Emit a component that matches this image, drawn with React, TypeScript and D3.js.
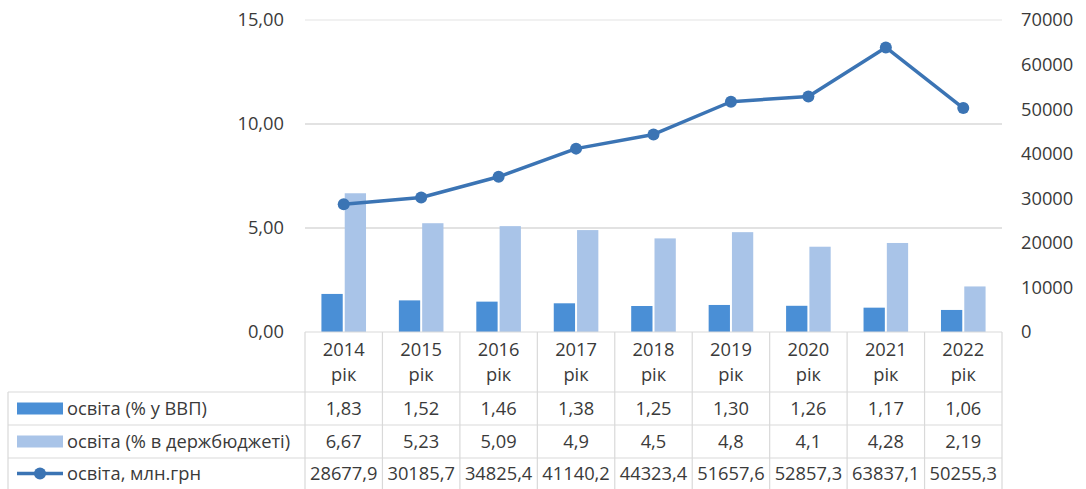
import React from 'react';
import * as d3 from 'd3';

const years = ['2014', '2015', '2016', '2017', '2018', '2019', '2020', '2021', '2022'];
const gdpShare = [1.83, 1.52, 1.46, 1.38, 1.25, 1.3, 1.26, 1.17, 1.06];
const gdpLabels = ['1,83', '1,52', '1,46', '1,38', '1,25', '1,30', '1,26', '1,17', '1,06'];
const budgetShare = [6.67, 5.23, 5.09, 4.9, 4.5, 4.8, 4.1, 4.28, 2.19];
const budgetLabels = ['6,67', '5,23', '5,09', '4,9', '4,5', '4,8', '4,1', '4,28', '2,19'];
const spending = [28677.9, 30185.7, 34825.4, 41140.2, 44323.4, 51657.6, 52857.3, 63837.1, 50255.3];
const spendingLabels = ['28677,9', '30185,7', '34825,4', '41140,2', '44323,4', '51657,6', '52857,3', '63837,1', '50255,3'];
const leftTicks = [0, 5, 10, 15];
const rightTicks = [0, 10000, 20000, 30000, 40000, 50000, 60000, 70000];
const seriesNames = ['освіта (% у ВВП)', 'освіта (% в держбюджеті)', 'освіта, млн.грн'];

const W = 1086;
const H = 489;
const plotL = 305;
const plotR = 1002;
const plotT = 20;
const plotB = 332;
const rowY = [332, 392, 425, 458, 489];
const tableL = 8;

const darkBlue = '#4a8fd6';
const lightBlue = '#a9c4e8';
const lineBlue = '#3b74b4';
const textCol = '#3a3a3a';
const gridCol = '#d9d9d9';
const font = '"Open Sans", sans-serif';
const fs = 18.3;

export default function App() {
  const x = d3.scaleBand<string>().domain(years).range([plotL, plotR]);
  const yL = d3.scaleLinear().domain([0, 15]).range([plotB, plotT]);
  const yR = d3.scaleLinear().domain([0, 70000]).range([plotB, plotT]);
  const bw = x.bandwidth() * 0.275;
  const gap = 2;
  const cx = (d: string) => (x(d) as number) + x.bandwidth() / 2;

  const line = d3.line<number>()
    .x((_, i) => cx(years[i]))
    .y(d => yR(d));

  const fmtLeft = (v: number) => v.toFixed(2).replace('.', ',');

  const rowMid = (r: number) => (rowY[r] + rowY[r + 1]) / 2;

  return (
    <svg width={W} height={H} style={{ position: 'absolute', left: 0, top: 0 }} fontFamily={font}>
      <rect width={W} height={H} fill="#fff" />

      {/* gridlines */}
      {leftTicks.filter(t => t > 0).map(t => (
        <line key={t} x1={plotL} x2={plotR} y1={yL(t)} y2={yL(t)} stroke={t === 15 ? '#ececec' : gridCol} strokeWidth={1.5} />
      ))}

      {/* left axis labels */}
      {leftTicks.map(t => (
        <text key={t} x={284} y={yL(t)} dy="0.35em" textAnchor="end" fontSize={fs} fill={textCol}>
          {fmtLeft(t)}
        </text>
      ))}

      {/* right axis labels */}
      {rightTicks.map(t => (
        <text key={t} x={1021} y={yR(t)} dy="0.35em" textAnchor="start" fontSize={fs} fill={textCol}>
          {t}
        </text>
      ))}

      {/* bars */}
      {years.map((d, i) => (
        <g key={d}>
          <rect x={cx(d) - gap / 2 - bw} y={yL(gdpShare[i])} width={bw} height={plotB - yL(gdpShare[i])} fill={darkBlue} />
          <rect x={cx(d) + gap / 2} y={yL(budgetShare[i])} width={bw} height={plotB - yL(budgetShare[i])} fill={lightBlue} />
        </g>
      ))}

      {/* line */}
      <path d={line(spending) || ''} fill="none" stroke={lineBlue} strokeWidth={3.5} strokeLinejoin="round" />
      {spending.map((v, i) => (
        <circle key={i} cx={cx(years[i])} cy={yR(v)} r={6} fill={lineBlue} />
      ))}

      {/* table grid */}
      <g stroke={gridCol} strokeWidth={1.2}>
        <line x1={plotL} x2={plotR} y1={rowY[0]} y2={rowY[0]} />
        {rowY.slice(1, 4).map(y => (
          <line key={y} x1={tableL} x2={plotR} y1={y} y2={y} />
        ))}
        {years.map(d => (
          <line key={d} x1={x(d) as number} x2={x(d) as number} y1={rowY[0]} y2={H} />
        ))}
        <line x1={plotR} x2={plotR} y1={rowY[0]} y2={H} />
        <line x1={tableL} x2={tableL} y1={rowY[1]} y2={H} />
      </g>

      {/* header */}
      {years.map(d => (
        <g key={d} fontSize={fs} fill={textCol} textAnchor="middle">
          <text x={cx(d)} y={356}>{d}</text>
          <text x={cx(d)} y={381}>рік</text>
        </g>
      ))}

      {/* legend cells */}
      <rect x={17} y={rowMid(1) - 6} width={46} height={12} fill={darkBlue} />
      <rect x={17} y={rowMid(2) - 6} width={46} height={12} fill={lightBlue} />
      <line x1={17} x2={63} y1={rowMid(3)} y2={rowMid(3)} stroke={lineBlue} strokeWidth={3.5} />
      <circle cx={40} cy={rowMid(3)} r={6} fill={lineBlue} />
      {seriesNames.map((s, r) => (
        <text key={s} x={67} y={rowMid(r + 1)} dy="0.35em" fontSize={fs} fill={textCol}>{s}</text>
      ))}

      {/* values */}
      {[gdpLabels, budgetLabels, spendingLabels].map((labels, r) => (
        <g key={r}>
          {years.map((d, i) => (
            <text key={d} x={cx(d)} y={rowMid(r + 1)} dy="0.35em" textAnchor="middle" fontSize={fs} fill={textCol}>
              {labels[i]}
            </text>
          ))}
        </g>
      ))}
    </svg>
  );
}
